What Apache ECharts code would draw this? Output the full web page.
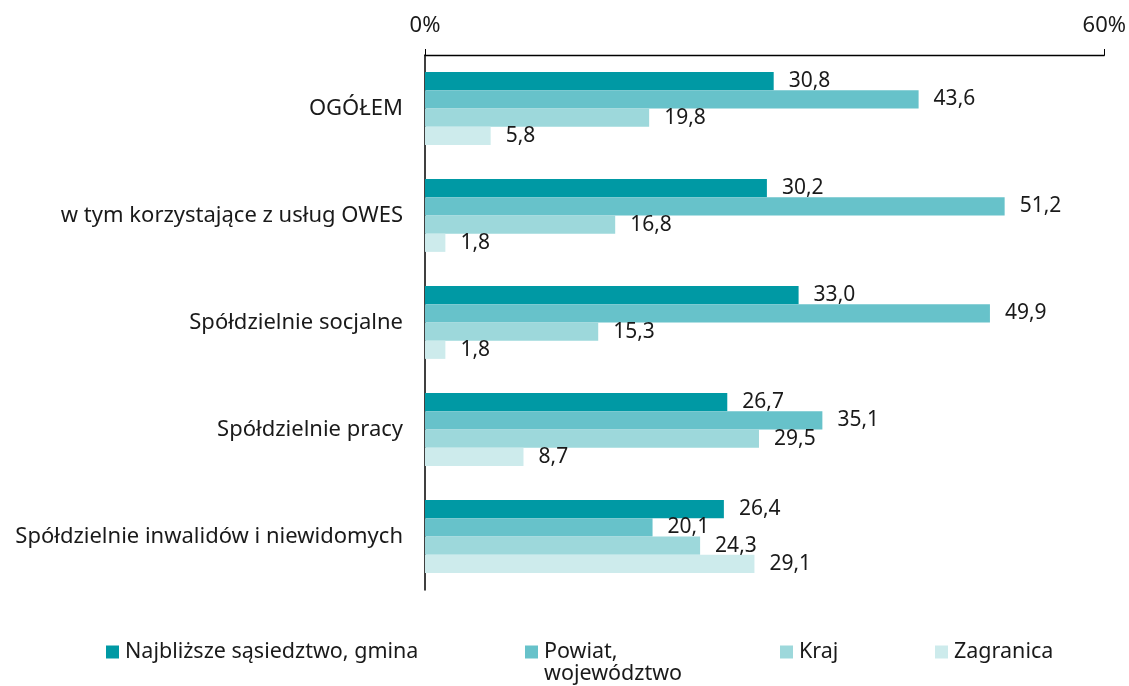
<!DOCTYPE html>
<html>
<head>
<meta charset="utf-8">
<script src="https://cdn.jsdelivr.net/npm/echarts@6/dist/echarts.min.js"></script>
<style>
    html, body { margin: 0; padding: 0; background: #fff; }
    #chart { width: 1129px; height: 686px; }
</style>
</head>
<body>
<div id="chart"></div>
<script>
    const categories = [
        'OGÓŁEM',
        'w tym korzystające z usług OWES',
        'Spółdzielnie socjalne',
        'Spółdzielnie pracy',
        'Spółdzielnie inwalidów i niewidomych'
    ]
    const seriesNames = ['Najbliższe sąsiedztwo, gmina', 'Powiat, województwo', 'Kraj', 'Zagranica']
    const najblizsze = [30.8, 30.2, 33.0, 26.7, 26.4]
    const powiat = [43.6, 51.2, 49.9, 35.1, 20.1]
    const kraj = [19.8, 16.8, 15.3, 29.5, 24.3]
    const zagranica = [5.8, 1.8, 1.8, 8.7, 29.1]
    const axisTicks = [0, 60]

    const colors = ['#0099a4', '#67c2ca', '#9dd8db', '#cdebec']
    const font = 'Noto Sans'
    const textColor = '#1a1a1a'

    const labelOption = {
        show: true,
        position: 'right',
        distance: 15,
        fontFamily: font,
        fontSize: 21,
        color: textColor,
        formatter: p => p.value.toFixed(1).replace('.', ',')
    }

    const seriesData = [najblizsze, powiat, kraj, zagranica]
    const legendLeft = [101, 520, 775, 930]

    const chart = echarts.init(document.getElementById('chart'))
    chart.setOption({
        animation: false,
        color: colors,
        grid: {left: 425, right: 24, top: 55, bottom: 96},
        xAxis: {
            type: 'value',
            position: 'top',
            min: axisTicks[0],
            max: axisTicks[1],
            interval: 60,
            axisLine: {show: true, lineStyle: {color: '#000', width: 1.3}},
            axisTick: {show: true, length: 6, lineStyle: {color: '#000'}},
            axisLabel: {
                margin: 18,
                fontFamily: font,
                fontSize: 22,
                color: textColor,
                formatter: '{value}%'
            },
            splitLine: {show: false}
        },
        yAxis: {
            type: 'category',
            inverse: true,
            data: categories,
            axisLine: {show: true, lineStyle: {color: '#000', width: 1.5}},
            axisTick: {show: false},
            axisLabel: {
                margin: 22,
                fontFamily: font,
                fontSize: 22,
                color: textColor
            }
        },
        legend: seriesNames.map((name, i) => ({
            data: [name],
            left: legendLeft[i],
            top: 636,
            icon: 'rect',
            itemWidth: 13,
            itemHeight: 13,
            itemGap: 0,
            formatter: n => n === 'Powiat, województwo' ? 'Powiat,' : n,
            textStyle: {fontFamily: font, fontSize: 21.5, color: textColor, padding: [0, 0, 0, 1]}
        })),
        graphic: [{
            type: 'text',
            left: 544,
            top: 663,
            style: {text: 'województwo', font: '21.5px "Noto Sans"', fill: textColor}
        }],
        series: seriesData.map((d, i) => ({
            name: seriesNames[i],
            type: 'bar',
            barGap: 0,
            barCategoryGap: '32%',
            label: labelOption,
            data: d
        }))
    })
</script>
</body>
</html>
